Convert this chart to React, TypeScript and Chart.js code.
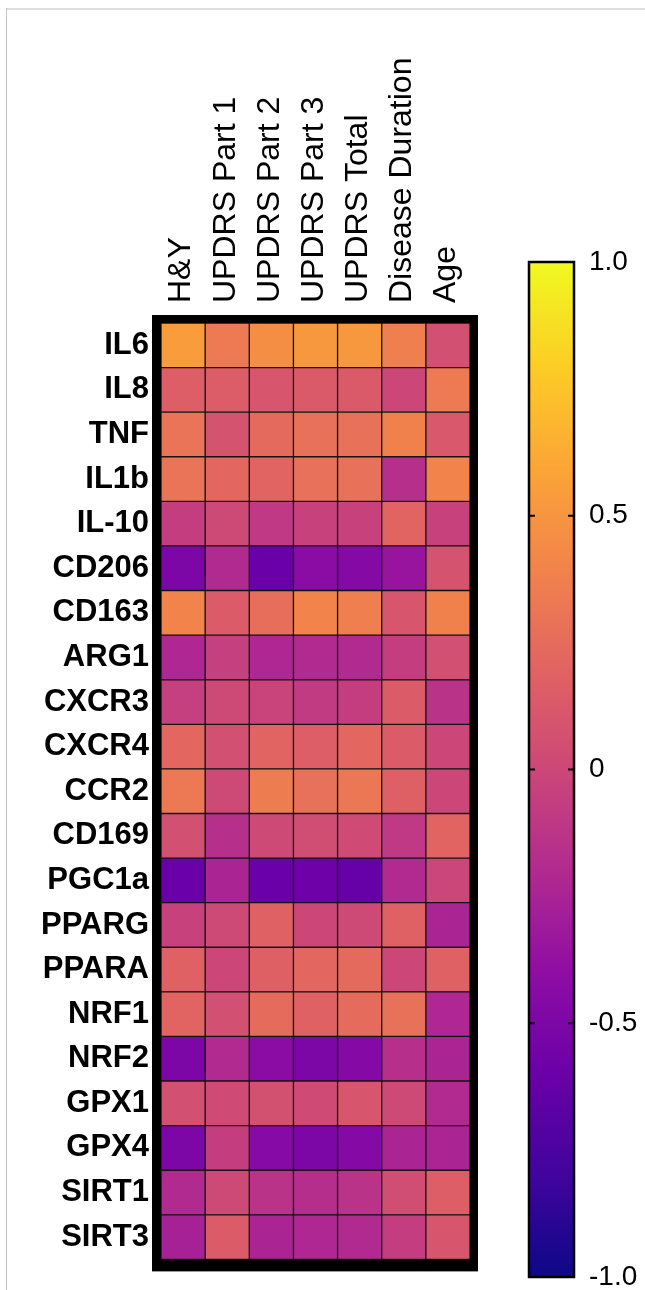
import React, { useEffect, useRef } from "react";
import { Chart, registerables } from "chart.js";

Chart.register(...registerables);

const ROWS = [
  "IL6", "IL8", "TNF", "IL1b", "IL-10", "CD206", "CD163", "ARG1", "CXCR3", "CXCR4", "CCR2",
  "CD169", "PGC1a", "PPARG", "PPARA", "NRF1", "NRF2", "GPX1", "GPX4", "SIRT1", "SIRT3",
];
const COLUMNS = ["H&Y", "UPDRS Part 1", "UPDRS Part 2", "UPDRS Part 3", "UPDRS Total", "Disease Duration", "Age"];

// correlation values, one array per column, in ROWS order
const H_Y = [0.54, 0.16, 0.3, 0.3, -0.06, -0.5, 0.4, -0.22, -0.05, 0.22, 0.33, 0.06, -0.6, -0.04, 0.18, 0.2, -0.5, 0.06, -0.5, -0.2, -0.26];
const UPDRS_P1 = [0.34, 0.15, 0.08, 0.22, 0.02, -0.2, 0.14, -0.05, 0.02, 0.06, 0.02, -0.16, -0.24, 0.02, 0.0, 0.06, -0.2, 0.03, -0.06, 0.02, 0.14];
const UPDRS_P2 = [0.46, 0.1, 0.24, 0.2, -0.1, -0.6, 0.26, -0.22, -0.02, 0.2, 0.35, 0.02, -0.6, 0.18, 0.17, 0.25, -0.42, 0.07, -0.45, -0.14, -0.24];
const UPDRS_P3 = [0.52, 0.13, 0.28, 0.28, -0.04, -0.42, 0.4, -0.2, -0.08, 0.16, 0.28, 0.05, -0.58, 0.0, 0.22, 0.18, -0.5, 0.03, -0.5, -0.17, -0.22];
const UPDRS_TOTAL = [0.52, 0.13, 0.28, 0.28, -0.04, -0.46, 0.37, -0.2, -0.06, 0.22, 0.32, 0.03, -0.62, 0.02, 0.24, 0.25, -0.46, 0.1, -0.46, -0.14, -0.2];
const DISEASE_DURATION = [0.37, 0.0, 0.38, -0.16, 0.2, -0.35, 0.1, -0.06, 0.14, 0.14, 0.17, -0.1, -0.2, 0.18, 0.0, 0.28, -0.16, 0.02, -0.24, 0.05, -0.07];
const AGE = [0.06, 0.34, 0.12, 0.4, -0.04, 0.08, 0.38, 0.06, -0.14, 0.0, 0.0, 0.2, -0.01, -0.24, 0.18, -0.22, -0.24, -0.2, -0.24, 0.16, 0.1];
const COLUMN_VALUES = [H_Y, UPDRS_P1, UPDRS_P2, UPDRS_P3, UPDRS_TOTAL, DISEASE_DURATION, AGE];

const COLORBAR_TICKS = [1, 0.5, 0, -0.5, -1];
const COLORBAR_LABELS = ["1.0", "0.5", "0", "-0.5", "-1.0"];
const COLOR_MIN = -1;
const COLOR_MAX = 1;

const PLASMA = ["#0d0887", "#41049d", "#6a00a8", "#8f0da4", "#b12a90", "#cc4778", "#e16462", "#f2844b", "#fca636", "#fcce25", "#f0f921"];

const FONT = "'Liberation Sans', Arial, Helvetica, sans-serif";

function hexToRgb(h: string) {
  const n = parseInt(h.slice(1), 16);
  return [(n >> 16) & 255, (n >> 8) & 255, n & 255];
}

function plasma(v: number) {
  let t = (v - COLOR_MIN) / (COLOR_MAX - COLOR_MIN);
  t = Math.max(0, Math.min(1, t));
  const p = t * (PLASMA.length - 1);
  const i = Math.min(PLASMA.length - 2, Math.floor(p));
  const f = p - i;
  const a = hexToRgb(PLASMA[i]);
  const b = hexToRgb(PLASMA[i + 1]);
  const c = a.map((x, k) => Math.round(x + (b[k] - x) * f));
  return `rgb(${c[0]},${c[1]},${c[2]})`;
}

const framePlugin = {
  id: "frame",
  beforeDraw(chart: any) {
    const ctx = chart.ctx;
    ctx.save();
    ctx.fillStyle = "#ffffff";
    ctx.fillRect(0, 0, chart.width, chart.height);
    // faint outer picture border
    ctx.fillStyle = "#dedede";
    ctx.fillRect(6, 8, chart.width - 6, 2);
    ctx.fillStyle = "#c4c4c4";
    ctx.fillRect(6, 8, 1, chart.height - 8);
    ctx.restore();
  },
  beforeDatasetsDraw(chart: any) {
    const { ctx, chartArea } = chart;
    ctx.save();
    ctx.fillStyle = "#000";
    ctx.fillRect(chartArea.left - 9, chartArea.top - 8, chartArea.right - chartArea.left + 17, chartArea.bottom - chartArea.top + 20);
    ctx.restore();
  },
  afterDraw(chart: any) {
    const ctx = chart.ctx;
    const cbLeft = 529;
    const cbRight = 574;
    const cbTop = 262;
    const cbBottom = 1277;
    const yOf = (v: number) => cbBottom - ((v - COLOR_MIN) / (COLOR_MAX - COLOR_MIN)) * (cbBottom - cbTop);
    ctx.save();
    const g = ctx.createLinearGradient(0, cbBottom, 0, cbTop);
    PLASMA.forEach((c, i) => g.addColorStop(i / (PLASMA.length - 1), c));
    ctx.fillStyle = g;
    ctx.fillRect(cbLeft, cbTop, cbRight - cbLeft, cbBottom - cbTop);
    ctx.strokeStyle = "#000";
    ctx.lineWidth = 2.5;
    ctx.strokeRect(cbLeft, cbTop, cbRight - cbLeft, cbBottom - cbTop);
    ctx.lineWidth = 2;
    ctx.fillStyle = "#000";
    ctx.font = `28px ${FONT}`;
    ctx.textAlign = "left";
    ctx.textBaseline = "middle";
    COLORBAR_TICKS.forEach((v, i) => {
      const y = yOf(v);
      if (v > COLOR_MIN && v < COLOR_MAX) {
        ctx.beginPath();
        ctx.moveTo(cbLeft, y);
        ctx.lineTo(cbLeft + 6, y);
        ctx.moveTo(cbRight - 6, y);
        ctx.lineTo(cbRight, y);
        ctx.stroke();
      }
      ctx.fillText(COLORBAR_LABELS[i], cbRight + 15, y);
    });
    ctx.restore();
  },
};

export default function App() {
  const ref = useRef<HTMLCanvasElement | null>(null);
  useEffect(() => {
    if (!ref.current) return;
    const chart = new Chart(ref.current, {
      type: "bar",
      data: {
        labels: ROWS,
        datasets: COLUMNS.map((col, c) => ({
          label: col,
          data: ROWS.map(() => 1),
          backgroundColor: COLUMN_VALUES[c].map((v) => plasma(v)),
          borderColor: "#141414",
          borderWidth: 1,
          borderSkipped: false,
          barPercentage: 1,
          categoryPercentage: 1,
        })),
      },
      options: {
        indexAxis: "y",
        responsive: false,
        animation: false,
        events: [],
        layout: { padding: { left: 0, right: 175, top: 0, bottom: 27 } },
        plugins: { legend: { display: false }, tooltip: { enabled: false } },
        scales: {
          x: {
            type: "linear",
            position: "top",
            stacked: true,
            min: 0,
            max: COLUMNS.length,
            grid: { display: false, drawTicks: false },
            border: { display: false },
            afterBuildTicks: (scale: any) => {
              scale.ticks = COLUMNS.map((_, i) => ({ value: i + 0.5 }));
            },
            afterFit: (scale: any) => {
              scale.height = 323;
            },
            ticks: {
              autoSkip: false,
              minRotation: 90,
              maxRotation: 90,
              padding: 20,
              labelOffset: 37,
              color: "#000",
              font: { family: FONT, size: 32 },
              callback: (v: any) => COLUMNS[Math.floor(Number(v))],
            },
          },
          y: {
            type: "category",
            position: "left",
            stacked: true,
            grid: { display: false, drawTicks: false },
            border: { display: false },
            afterFit: (scale: any) => {
              scale.width = 161;
            },
            ticks: {
              autoSkip: false,
              padding: 12,
              color: "#000",
              font: { family: FONT, size: 31, weight: "bold" },
            },
          },
        },
      },
      plugins: [framePlugin],
    } as any);
    return () => chart.destroy();
  }, []);
  return (
    <div style={{ position: "absolute", left: 0, top: 0, width: 645, height: 1290 }}>
      <canvas ref={ref} width={645} height={1290} style={{ display: "block", width: 645, height: 1290 }} />
    </div>
  );
}
